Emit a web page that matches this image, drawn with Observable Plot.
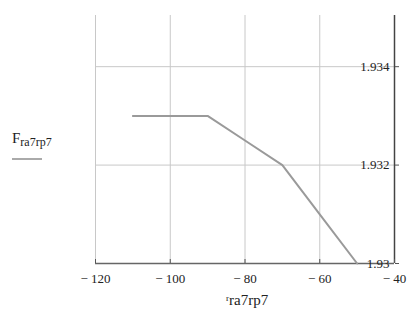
<!DOCTYPE html>
<html><head><meta charset="utf-8">
<script src="https://cdn.jsdelivr.net/npm/d3@7"></script>
<script src="https://cdn.jsdelivr.net/npm/@observablehq/plot@0.6"></script>
<style>
body{margin:0;background:#fff;}
#wrap{position:relative;width:409px;height:322px;font-family:"Liberation Serif","Times New Roman","DejaVu Serif",serif;color:#222;}
.lab{position:absolute;font-size:15px;white-space:nowrap;font-family:"Liberation Serif","Times New Roman","DejaVu Serif",serif;}
.lab sub{font-size:12px;vertical-align:-3px;}
.lab sup{font-size:9px;vertical-align:4px;}
#leg{position:absolute;left:12px;top:158px;width:30px;height:0;border-top:2px solid #aaa;}
</style></head>
<body><div id="wrap"></div>
<script>
const xValues = [-110, -100, -90, -80, -70, -60, -50];
const yValues = [1.933, 1.933, 1.933, 1.9325, 1.932, 1.931, 1.930];
const xTicks = [-120, -100, -80, -60, -40];
const yTicks = [1.930, 1.932, 1.934];
const yLabel = "F";
const ySub = "ra7rp7";
const xLabelPre = "r";
const xLabelSub = "ra7rp7";

const data = xValues.map((x, i) => ({x, y: yValues[i]}));
const fmtX = d => "\u2212 " + Math.abs(d);
const fmtY = d => d3.format(".3~f")(d);

const chart = Plot.plot({
  width: 409, height: 322,
  marginLeft: 95, marginRight: 15, marginTop: 15, marginBottom: 59,
  style: {fontFamily: "'Liberation Serif', 'Times New Roman', 'DejaVu Serif', serif", fontSize: "13px", color: "#222", background: "#fff"},
  x: {domain: [-120, -40]},
  y: {domain: [1.93, 1.93504]},
  marks: [
    Plot.gridX(xTicks, {stroke: "#c8c8c8", strokeOpacity: 1, strokeWidth: 1}),
    Plot.gridY(yTicks, {stroke: "#c8c8c8", strokeOpacity: 1, strokeWidth: 1}),
    Plot.ruleY([1.93], {stroke: "#666", strokeWidth: 1.5}),
    Plot.ruleX([-40], {stroke: "#444", strokeWidth: 1.5}),
    Plot.axisX(xTicks, {tickSize: -4, tickFormat: fmtX, tickPadding: 14, stroke: "#555", fill: "#222", label: null}),
    Plot.axisY(yTicks, {anchor: "right", tickSize: 4, tickPadding: -9, textAnchor: "end", tickFormat: fmtY, stroke: "#555", fill: "#222", label: null}),
    Plot.line(data, {x: "x", y: "y", stroke: "#9a9a9a", strokeWidth: 2})
  ]
});
const wrap = document.getElementById("wrap");
wrap.appendChild(chart);
const yl = document.createElement("div");
yl.className = "lab"; yl.style.left = "12px"; yl.style.top = "130px";
yl.innerHTML = yLabel + "<sub>" + ySub + "</sub>";
wrap.appendChild(yl);
const leg = document.createElement("div"); leg.id = "leg"; wrap.appendChild(leg);
const xl = document.createElement("div");
xl.className = "lab"; xl.style.left = "226px"; xl.style.top = "292px";
xl.innerHTML = "<sup>" + xLabelPre + "</sup>" + xLabelSub;
wrap.appendChild(xl);
</script></body></html>
